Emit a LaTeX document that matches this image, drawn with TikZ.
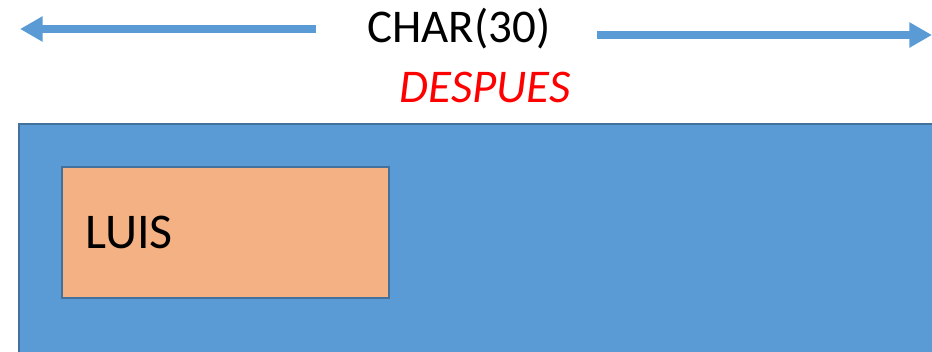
\documentclass[tikz,border=0pt]{standalone}
\usepackage{fontspec}
\setmainfont{Carlito}
\usetikzlibrary{arrows.meta}
\definecolor{boxblue}{HTML}{5B9BD5}
\definecolor{edgeblue}{HTML}{41719C}
\definecolor{boxorange}{HTML}{F4B183}
\definecolor{labelred}{HTML}{FF0000}
\tikzset{
  span/.style={draw=boxblue, line width=6pt,
    -{Triangle[length=17pt,width=18pt]}},
  field/.style={draw=edgeblue, line width=1.5pt},
  label/.style={inner sep=0pt, font=\fontsize{35.2}{40}\selectfont},
}
\begin{document}
\begin{tikzpicture}[x=0.75pt,y=-0.75pt]
  \useasboundingbox (0,0) rectangle (932,351);
  \begin{scope}
    \clip (0,0) rectangle (932,351);
    % outer column storage
    \path[field, fill=boxblue] (19,124) rectangle (950,370);
  \end{scope}
  % stored value
  \node[field, fill=boxorange, minimum width=327*0.75pt, minimum height=131*0.75pt,
        inner sep=0pt, anchor=north west] (val) at (61,166) {};
  \node[label, font=\fontsize{37.5}{42}\selectfont, anchor=base west] (luis) at (85,248) {LUIS};
  % width label with arrows
  \node[label, anchor=base] (title) at (459,42) {CHAR(30)};
  \node[label, anchor=base, text=labelred, font=\fontsize{35.2}{40}\selectfont\itshape] (after) at (485,102) {DESPUES};
  \coordinate (ls) at (316,29);
  \coordinate (le) at (20,29);
  \coordinate (rs) at (597,35);
  \coordinate (re) at (932,35);
  \draw[span] (ls) -- (le);
  \draw[span] (rs) -- (re);
\end{tikzpicture}
\end{document}
